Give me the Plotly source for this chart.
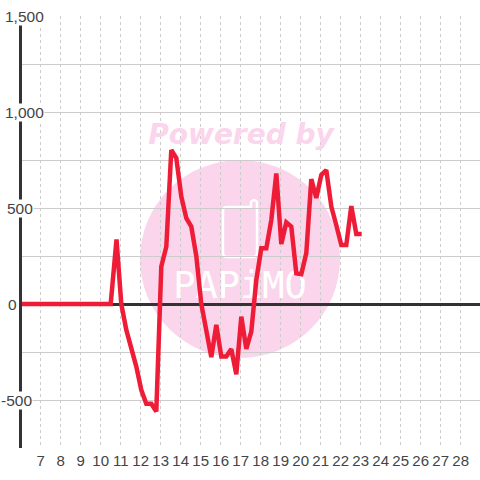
import plotly.graph_objects as go

hours = [5.75, 6, 7, 8, 9, 10, 10.5, 10.79, 11.03, 11.28, 11.53, 11.78, 12.03, 12.28, 12.53, 12.78, 13.03,
         13.28, 13.53, 13.78, 14.03, 14.28, 14.53, 14.78, 15.03, 15.28, 15.53, 15.78, 16.03, 16.28,
         16.53, 16.78, 17.03, 17.28, 17.53, 17.78, 18.03, 18.28, 18.53, 18.78, 19.03, 19.28, 19.53,
         19.78, 20.03, 20.28, 20.53, 20.78, 21.03, 21.28, 21.53, 21.78, 22.03, 22.28, 22.53, 22.78, 23.05]
values = [0, 0, 0, 0, 0, 0, 0, 336, 0, -135, -230, -326, -448, -520, -520, -560, 195,
          298, 802, 760, 560, 447, 403, 250, 0, -135, -277, -109, -274, -274,
          -235, -366, -66, -234, -144, 125, 290, 290, 437, 680, 312, 425, 403,
          160, 155, 265, 650, 552, 672, 698, 507, 410, 307, 307, 510, 365, 365]
x_ticks = list(range(7, 29))
y_tick_labels = [("1,500", 1500), ("1,000", 1000), ("500", 500), ("0", 0), ("-500", -500)]
y_label_centers = [24.5, 24.5, 20, 12, 16.5]

L, T, W, H = 22, 16, 458, 432
def px(x): return (x - L) / W
def py(y): return 1 - (y - T) / H
def dx(p): return 7 + (p - 40.7) / 20
def dy(p): return (304 - p) / 0.192

fig = go.Figure()
PINK = "#fbd5ec"

fig.add_trace(go.Scatter(x=[dx(241)], y=[dy(137)], mode="text", text=["Powered by"], textposition="middle center",
                         textfont=dict(family="DejaVu Sans", size=28, color=PINK, weight="bold", style="italic"),
                         cliponaxis=False, showlegend=False, hoverinfo="skip"))
fig.add_trace(go.Scatter(x=[dx(240)], y=[dy(289)], mode="text", text=["PAPiMO"], textposition="middle center",
                         textfont=dict(family="DejaVu Sans Mono", size=37, color="white"),
                         cliponaxis=False, showlegend=False, hoverinfo="skip"))
fig.add_trace(go.Scatter(x=hours, y=values, mode="lines", line=dict(color="#ee1c37", width=4.5),
                         cliponaxis=False, showlegend=False))

def P(x, y): return f"{px(x)} {py(y)}"
shapes = [
    dict(type="circle", xref="paper", yref="paper", x0=px(140), x1=px(340), y0=py(358), y1=py(160),
         fillcolor=PINK, line=dict(width=0), layer="below"),
    dict(type="path", xref="paper", yref="paper", layer="below", line=dict(color="white", width=2.5),
         path=f"M {P(227,207)} L {P(251,207)} L {P(251,202)} Q {P(254,198)} {P(257,202)} L {P(257,253)} "
              f"Q {P(257,257)} {P(253,257)} L {P(227,257)} Q {P(223,257)} {P(223,253)} "
              f"L {P(223,211)} Q {P(223,207)} {P(227,207)} Z"),
]

annotations = []
for (lab, v), c in zip(y_tick_labels, y_label_centers):
    annotations.append(dict(text=lab, xref="paper", yref="y", x=px(c), y=v, showarrow=False, xanchor="center",
                            bgcolor="white", borderpad=0,
                            font=dict(family="Liberation Sans", size=15.5, color="#444444")))

fig.update_layout(
    width=480, height=480, autosize=False,
    margin=dict(l=L, r=0, t=T, b=32),
    paper_bgcolor="white", plot_bgcolor="rgba(0,0,0,0)",
    shapes=shapes, annotations=annotations,
    xaxis=dict(range=[6.065, 28.965], tickmode="array", tickvals=x_ticks, ticktext=[str(t) for t in x_ticks],
               showgrid=True, gridcolor="#cccccc", griddash="dot", gridwidth=1, zeroline=False, ticks="",
               showline=False, ticklabelstandoff=2,
               tickfont=dict(family="Liberation Sans", size=15, color="#444444")),
    yaxis=dict(range=[-750, 1500], tickmode="linear", tick0=0, dtick=250, showticklabels=False, ticks="",
               showgrid=True, gridcolor="#cccccc", gridwidth=1, zeroline=True, zerolinecolor="#333333",
               zerolinewidth=3, showline=True, linecolor="#333333", linewidth=3),
)
fig.write_html("out.html", config={"displayModeBar": False},
               post_script="document.body.style.margin='0';document.body.style.overflow='hidden';")
